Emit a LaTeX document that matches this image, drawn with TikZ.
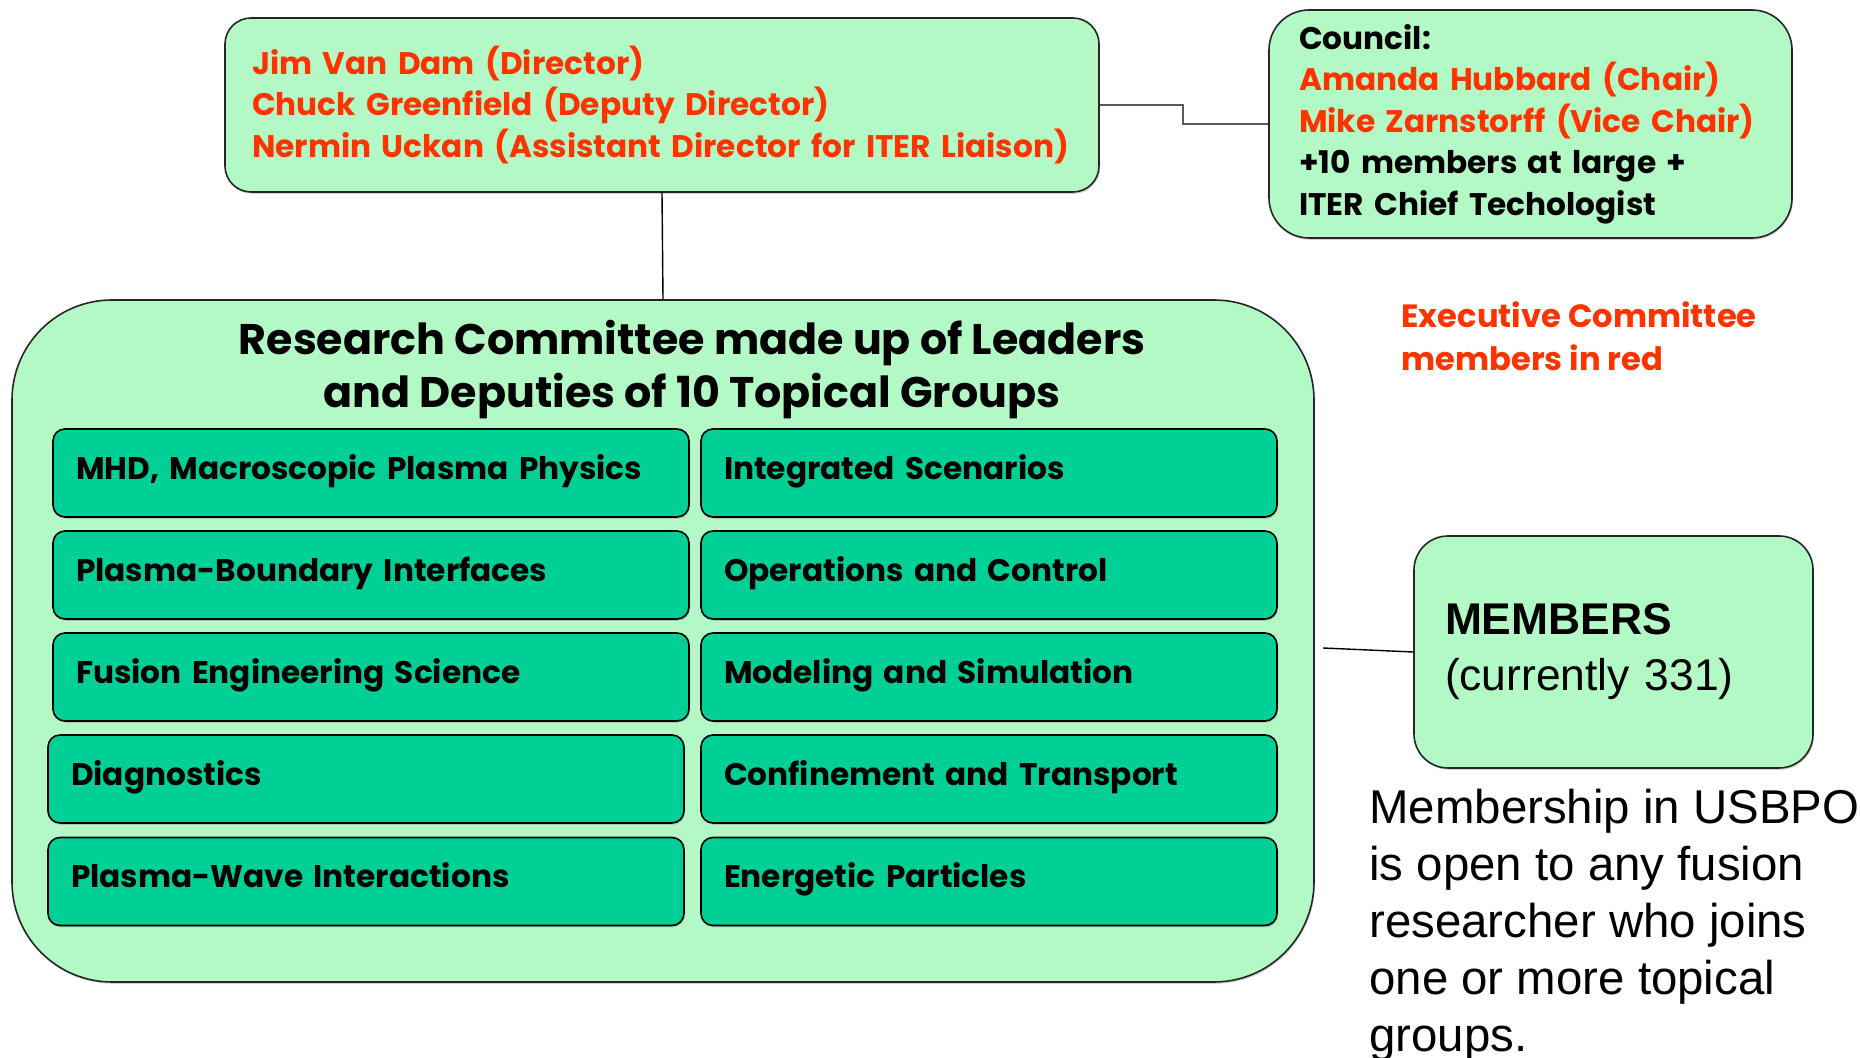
\documentclass[tikz,border=0pt]{standalone}
\usepackage{fontspec}
\setmainfont{Liberation Sans}
\newfontfamily\gothic{Poppins}
\usetikzlibrary{positioning,shadows}
\definecolor{palegreen}{HTML}{B3F9C5}
\definecolor{topicgreen}{HTML}{00CF96}
\definecolor{execred}{HTML}{FF3300}

\begin{document}
\begin{tikzpicture}[x=0.5pt,y=-0.5pt,
    boxshadow/.style={drop shadow={shadow xshift=0.5pt,shadow yshift=-0.9pt,opacity=0.35}},
    panel/.style={draw=black!85,line width=0.8pt,fill=palegreen,boxshadow},
    gothictext/.style={font=\gothic\bfseries\fontsize{15.6}{20.75}\selectfont},
    topic/.style={draw=black,line width=0.8pt,fill=topicgreen,rounded corners=6pt,boxshadow,
      minimum height=44pt,inner xsep=11.5pt,align=left,text height=1.5ex,text depth=.3ex,gothictext},
    lefttopic/.style={topic,text width=295pt},
    righttopic/.style={topic,text width=265pt},
    link/.style={draw=black,line width=0.7pt}]
  \useasboundingbox (0,0) rectangle (1860,1058);

  \node[panel,rounded corners=13pt,minimum height=87pt,inner xsep=13.5pt,text width=410pt,
    align=left,text=execred,gothictext] (dir) at (662,105)
    {Jim Van Dam (Director)\\Chuck Greenfield (Deputy Director)\\Nermin Uckan (Assistant Director for ITER Liaison)};
  \node[panel,rounded corners=20pt,minimum height=114pt,inner xsep=15pt,text width=231.5pt,
    align=left,gothictext] (council) at (1530.5,124)
    {Council:\\\textcolor{execred}{Amanda Hubbard (Chair)}\\\textcolor{execred}{Mike Zarnstorff (Vice Chair)}\\+10 members at large +\\ITER Chief Techologist};
  \node[anchor=north west,inner sep=0pt,align=left,text=execred,
    font=\gothic\bfseries\fontsize{16.1}{21.5}\selectfont] (exec) at (1401,301)
    {Executive Committee\\members in red};

  \node[panel,rounded corners=50pt,minimum width=651pt,minimum height=341pt] (rc) at (663,641) {};
  \node[align=center,font=\gothic\bfseries\fontsize{21.4}{26.5}\selectfont] (rctitle) at (692,370)
    {Research Committee made up of Leaders\\and Deputies of 10 Topical Groups};

  \node[lefttopic] (mhd) at (371,473) {MHD, Macroscopic Plasma Physics};
  \node[lefttopic] (pbi) at (371,575) {Plasma-Boundary Interfaces};
  \node[lefttopic] (fes) at (371,677) {Fusion Engineering Science};
  \node[lefttopic] (diag) at (366,779) {Diagnostics};
  \node[lefttopic] (pwi) at (366,881.5) {Plasma-Wave Interactions};
  \node[righttopic] (is) at (989,473) {Integrated Scenarios};
  \node[righttopic] (oc) at (989,575) {Operations and Control};
  \node[righttopic] (ms) at (989,677) {Modeling and Simulation};
  \node[righttopic] (ct) at (989,779) {Confinement and Transport};
  \node[righttopic] (ep) at (989,881.5) {Energetic Particles};

  \node[panel,rounded corners=17pt,minimum height=116pt,inner xsep=15.5pt,text width=168.5pt,
    align=left,font=\fontsize{22.2}{27.9}\selectfont] (mem) at (1613.5,652)
    {\textbf{MEMBERS}\\(currently 331)};
  \node[anchor=north west,inner sep=0pt,align=left,font=\fontsize{23.7}{28.5}\selectfont] (note) at (1369,789)
    {Membership in USBPO\\is open to any fusion\\researcher who joins\\one or more topical\\groups.};

  \coordinate (step) at (1183,114);
  \coordinate (memlink) at (1323,648);
  \draw[link] (dir.south) -- (rc.north);
  \draw[link,draw=black!65] (dir.east) -| (step) |- (council.west);
  \draw[link] (memlink) -- (mem.west);
\end{tikzpicture}
\end{document}
